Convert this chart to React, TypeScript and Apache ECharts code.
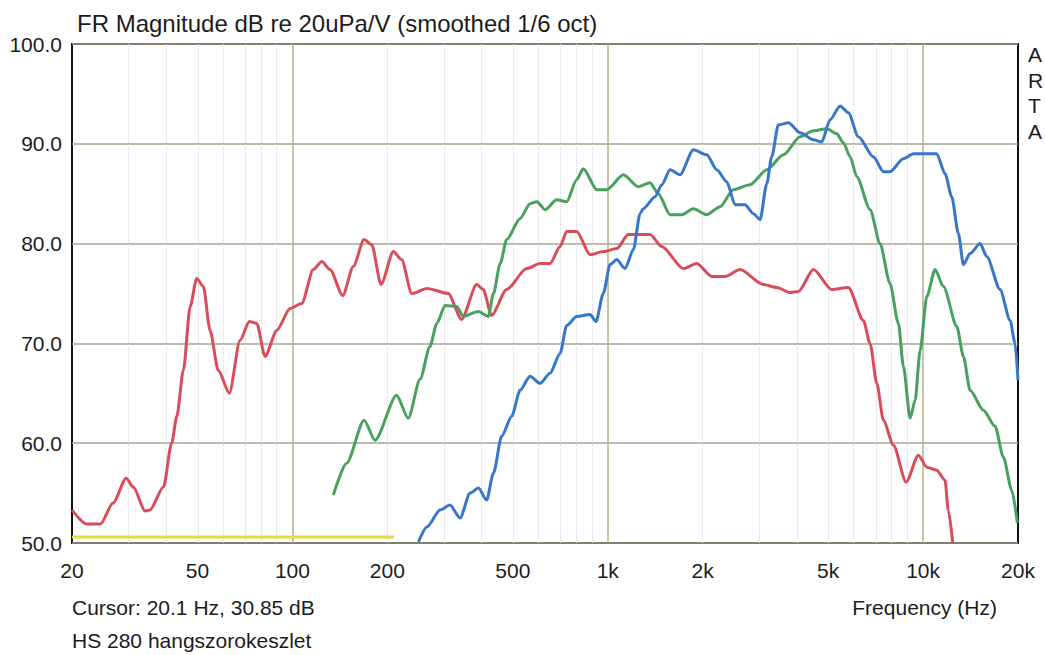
import React, { useEffect, useRef } from "react";
import * as echarts from "echarts";

// ---- data (frequency in Hz, level in dB) ----
const redFreq = [20, 22.3, 24.6, 27, 29.7, 31.3, 34.1, 35.3, 39, 41.4, 43, 45.1, 47.4, 49.7, 52.2, 54.8, 58.2, 63.1, 68.2, 73, 77.1, 81.9, 89.2, 98.3, 107, 116.5, 124, 131.6, 144.4, 156, 168.7, 178.5, 191, 209, 222, 239, 267, 312, 344, 384, 403, 428, 478, 553, 610, 656, 706, 741, 797, 879, 968, 1068, 1162, 1362, 1484, 1737, 1915, 2138, 2356, 2628, 3116, 3437, 3787, 4025, 4490, 5134, 5796, 6468, 6792, 7131, 7487, 8054, 8834, 9664, 10276, 11047, 11741, 12020, 12420];
const redDb = [53.3, 51.9, 51.9, 54.0, 56.5, 55.6, 53.2, 53.3, 55.6, 60.0, 62.7, 67.3, 73.7, 76.5, 75.7, 71.3, 67.3, 65.0, 70.3, 72.2, 72.0, 68.7, 71.3, 73.5, 74.0, 77.4, 78.2, 77.4, 74.8, 77.7, 80.4, 79.9, 75.9, 79.2, 78.4, 75.0, 75.5, 75.0, 72.4, 75.9, 75.4, 72.8, 75.4, 77.5, 78.0, 78.0, 79.7, 81.2, 81.2, 78.9, 79.2, 79.5, 80.9, 80.9, 79.7, 77.5, 78.0, 76.7, 76.7, 77.4, 75.9, 75.6, 75.1, 75.2, 77.4, 75.4, 75.6, 72.3, 70.0, 66.0, 62.3, 59.8, 56.1, 58.8, 57.6, 57.3, 56.3, 53.3, 50.0];

const greenFreq = [134.8, 148.6, 168.7, 182.9, 214, 233, 254, 273, 287, 305, 332, 348, 389, 418, 434, 456, 478, 527, 567, 596, 633, 689, 741, 797, 837, 923, 993, 1121, 1250, 1362, 1447, 1576, 1717, 1869, 2061, 2270, 2503, 2826, 3194, 3605, 4074, 4490, 4949, 5327, 5588, 5869, 6163, 6792, 7305, 7853, 8350, 8662, 9098, 9436, 9786, 10276, 10916, 11603, 12790, 13425, 14093, 15532, 16917, 17975, 19107, 19910];
const greenDb = [54.8, 58.0, 62.3, 60.3, 64.8, 62.5, 66.4, 69.7, 72.0, 73.8, 73.7, 72.7, 73.2, 72.7, 75.0, 78.0, 80.4, 82.5, 84.0, 84.2, 83.4, 84.4, 84.2, 86.4, 87.5, 85.4, 85.4, 86.9, 85.7, 86.1, 85.0, 82.9, 82.9, 83.5, 82.9, 83.7, 85.4, 85.9, 87.4, 88.9, 90.7, 91.3, 91.5, 91.0, 90.1, 88.7, 86.7, 83.4, 80.0, 76.0, 72.0, 67.7, 62.5, 64.3, 69.3, 74.7, 77.4, 75.7, 71.7, 68.7, 65.3, 63.3, 61.7, 58.6, 55.3, 52.0];

const blueFreq = [251, 267, 294, 316, 340, 366, 389, 413, 434, 461, 496, 527, 567, 610, 656, 706, 741, 797, 879, 918, 968, 1017, 1068, 1135, 1206, 1266, 1297, 1413, 1484, 1576, 1695, 1869, 2061, 2217, 2385, 2533, 2726, 2896, 3041, 3194, 3311, 3477, 3740, 4074, 4490, 4773, 5072, 5455, 5796, 6236, 6956, 7487, 7853, 8662, 9322, 11047, 11741, 12330, 12940, 13425, 14093, 15167, 15924, 17544, 18880, 19582, 20000];
const blueDb = [50.1, 51.6, 53.3, 53.8, 52.5, 55.0, 55.5, 54.3, 57.0, 60.7, 62.7, 65.3, 66.7, 66.0, 67.0, 69.0, 71.8, 72.7, 72.9, 72.2, 75.0, 77.9, 78.4, 77.5, 79.4, 83.0, 83.5, 84.7, 85.9, 87.4, 86.9, 89.4, 88.9, 87.4, 86.2, 83.9, 83.9, 83.0, 82.4, 86.0, 88.7, 91.9, 92.1, 91.1, 90.4, 90.2, 92.4, 93.8, 93.1, 90.7, 88.7, 87.2, 87.2, 88.5, 89.0, 89.0, 87.0, 84.7, 81.0, 77.9, 79.0, 80.0, 78.7, 75.4, 72.3, 70.0, 66.3];

const yellowFreq = [20, 210];
const yellowDb = [50.6, 50.6];

const xTickHz = [20, 50, 100, 200, 500, 1000, 2000, 5000, 10000, 20000];
const xTickLabels = ["20", "50", "100", "200", "500", "1k", "2k", "5k", "10k", "20k"];
const majorGridHz = [100, 1000, 10000];
const minorGridHz = [30, 40, 50, 60, 70, 80, 90, 200, 300, 400, 500, 600, 700, 800, 900, 2000, 3000, 4000, 5000, 6000, 7000, 8000, 9000];

const titleText = "FR Magnitude dB re 20uPa/V (smoothed 1/6 oct)";
const cursorText = "Cursor: 20.1 Hz, 30.85 dB";
const noteText = "HS 280 hangszorokeszlet";
const xNameText = "Frequency (Hz)";
const brandLetters = ["A", "R", "T", "A"];

const FONT = "'Liberation Sans', Arial, sans-serif";
const TEXT = "#1c1c1c";

const toPairs = (f: number[], d: number[]) => f.map((v, i) => [Math.log10(v), d[i]]);

export default function App() {
  const ref = useRef<HTMLDivElement>(null);
  useEffect(() => {
    if (!ref.current) return;
    const chart = echarts.init(ref.current, undefined, { renderer: "svg" });
    const lineSeries = (name: string, f: number[], d: number[], color: string, width = 3) => ({
      name,
      type: "line",
      data: toPairs(f, d),
      showSymbol: false,
      smooth: 0.25,
      smoothMonotone: "x",
      z: 5,
      lineStyle: { color, width },
      itemStyle: { color },
    });
    const option: any = {
      animation: false,
      backgroundColor: "#ffffff",
      textStyle: { fontFamily: FONT },
      title: {
        text: titleText,
        left: 72,
        top: 6,
        textStyle: { fontFamily: FONT, fontSize: 24, fontWeight: "normal", color: TEXT },
      },
      grid: {
        left: 72,
        right: 27,
        top: 44,
        bottom: 112,
        show: true,
        borderColor: "#111",
        borderWidth: 2,
        backgroundColor: "transparent",
      },
      xAxis: {
        type: "value",
        min: Math.log10(20),
        max: Math.log10(20000),
        axisLine: { show: false },
        axisTick: { show: false },
        splitLine: { show: false },
        axisLabel: {
          customValues: xTickHz.map((h) => Math.log10(h)),
          formatter: (v: number) => {
            let best = 0;
            xTickHz.forEach((h, i) => {
              if (Math.abs(Math.log10(h) - v) < Math.abs(Math.log10(xTickHz[best]) - v)) best = i;
            });
            return xTickLabels[best];
          },
          fontSize: 21,
          color: TEXT,
          fontFamily: FONT,
          margin: 17,
        },
      },
      yAxis: {
        type: "value",
        min: 50,
        max: 100,
        interval: 10,
        axisLine: { show: false },
        axisTick: { show: false },
        splitLine: { show: true, lineStyle: { color: "#a7a58c", width: 1.5 } },
        axisLabel: {
          formatter: (v: number) => v.toFixed(1),
          fontSize: 21,
          color: TEXT,
          fontFamily: FONT,
          margin: 10,
        },
      },
      series: [
        {
          name: "minorGrid",
          type: "line",
          data: [],
          silent: true,
          z: 1,
          markLine: {
            silent: true,
            symbol: ["none", "none"],
            label: { show: false },
            lineStyle: { color: "#d4d4d4", width: 1, type: "dotted" },
            data: minorGridHz.map((h) => ({ xAxis: Math.log10(h) })),
          },
        },
        {
          name: "majorGrid",
          type: "line",
          data: [],
          silent: true,
          z: 1,
          markLine: {
            silent: true,
            symbol: ["none", "none"],
            label: { show: false },
            lineStyle: { color: "#b4b28a", width: 1.5, type: "solid" },
            data: majorGridHz.map((h) => ({ xAxis: Math.log10(h) })),
          },
        },
        lineSeries("yellow", yellowFreq, yellowDb, "#e4dc3c", 3),
        lineSeries("red", redFreq, redDb, "#d94d5a"),
        lineSeries("green", greenFreq, greenDb, "#47a15f"),
        lineSeries("blue", blueFreq, blueDb, "#3677c9"),
      ],
      graphic: [
        ...brandLetters.map((ch, i) => ({
          type: "text",
          left: 1028,
          top: 44 + i * 25.5,
          style: { text: ch, fontSize: 21, fontFamily: FONT, fill: TEXT },
        })),
        {
          type: "text",
          left: 72,
          top: 597,
          style: { text: cursorText, fontSize: 21, fontFamily: FONT, fill: TEXT },
        },
        {
          type: "text",
          left: 72,
          top: 630,
          style: { text: noteText, fontSize: 21, fontFamily: FONT, fill: TEXT },
        },
        {
          type: "text",
          right: 48,
          top: 597,
          style: { text: xNameText, fontSize: 21, fontFamily: FONT, fill: TEXT },
        },
      ],
    };
    chart.setOption(option);
    return () => chart.dispose();
  }, []);
  return (
    <div
      ref={ref}
      style={{ position: "fixed", left: 0, top: 0, width: 1045, height: 655, background: "#fff" }}
    />
  );
}
